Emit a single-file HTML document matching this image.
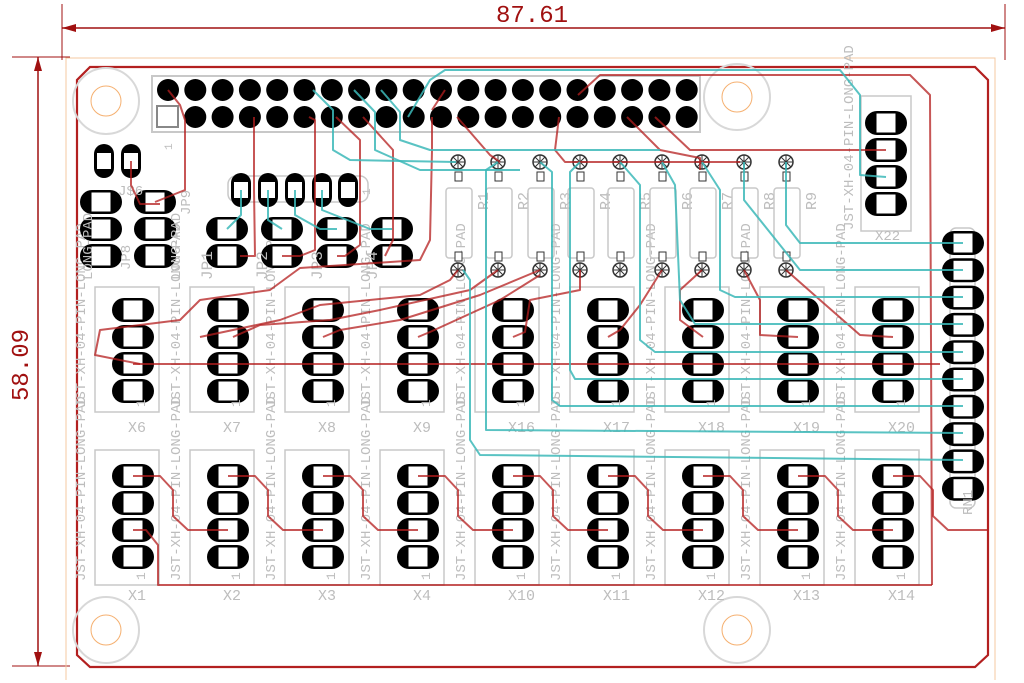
<!DOCTYPE html>
<html><head><meta charset="utf-8"><style>
html,body{margin:0;padding:0;background:#fff;width:1024px;height:683px;overflow:hidden}
svg{display:block}
text{font-family:"Liberation Mono",monospace}
</style></head><body>
<svg id="s" width="1024" height="683" viewBox="0 0 1024 683" xmlns="http://www.w3.org/2000/svg">
<g stroke="#a01010" stroke-width="1.5" fill="#a01010">
<line x1="62" y1="28" x2="1005" y2="28"/>
<line x1="62" y1="4" x2="62" y2="60" stroke-width="1"/>
<line x1="1005" y1="4" x2="1005" y2="60" stroke-width="1"/>
<polygon points="62,28 76,24 76,32" stroke="none"/>
<polygon points="1005,28 991,24 991,32" stroke="none"/>
<line x1="38" y1="57" x2="38" y2="666"/>
<line x1="12" y1="57" x2="70" y2="57" stroke-width="1"/>
<line x1="12" y1="666" x2="70" y2="666" stroke-width="1"/>
<polygon points="38,57 34,71 42,71" stroke="none"/>
<polygon points="38,666 34,652 42,652" stroke="none"/>
</g>
<text x="532" y="22" font-size="24" fill="#a01010" text-anchor="middle" font-family="Liberation Sans">87.61</text>
<text x="0" y="0" font-size="24" fill="#a01010" text-anchor="middle" font-family="Liberation Sans" transform="translate(28,365) rotate(-90)">58.09</text>
<polyline points="66,680 66,58 995,58 995,680" fill="none" stroke="#f4c9a0" stroke-width="1"/>
<g id="g"></g>
</svg>
<script>
var g=document.getElementById('g'),h='';
function A(s){h+=s;}
var RED='rgba(180,30,30,0.75)',CY='rgba(60,185,185,0.85)',GR='#c8c8c8',LB='#bdbdbd';
A('<path d="M90,67 L975,67 L988,80 L988,655 L975,667 L90,667 L77,655 L77,80 Z" fill="none" stroke="#b32020" stroke-width="2.2"/>');
[[106,101],[737,97],[106,630],[737,630]].forEach(function(p){A('<circle cx="'+p[0]+'" cy="'+p[1]+'" r="33" fill="none" stroke="#d8d8d8" stroke-width="2"/><circle cx="'+p[0]+'" cy="'+p[1]+'" r="15" fill="none" stroke="#f5b070" stroke-width="1"/>');});
function hpad(x,y){A('<rect x="'+(x-21)+'" y="'+(y-12)+'" width="42" height="24" rx="12" fill="#000"/><rect x="'+(x-10)+'" y="'+(y-10)+'" width="20" height="20" fill="#fff"/><rect x="'+(x-10)+'" y="'+(y-10)+'" width="20" height="20" fill="none" stroke="#000" stroke-width="1"/>');}
function vpad(x,y){A('<rect x="'+(x-10)+'" y="'+(y-17)+'" width="20" height="34" rx="10" fill="#000"/><rect x="'+(x-7)+'" y="'+(y-8)+'" width="14" height="16" fill="#fff"/>');}
function txt(x,y,s,sz,rot){A('<text x="'+x+'" y="'+y+'" font-size="'+(sz||14)+'" fill="'+LB+'"'+(rot?' transform="rotate(-90 '+x+' '+y+')"':'')+'>'+s+'</text>');}
function T(pts,c){A('<polyline points="'+pts+'" fill="none" stroke="'+c+'" stroke-width="2" stroke-linejoin="round"/>');}
A('<rect x="152" y="76" width="548" height="56" fill="none" stroke="'+GR+'" stroke-width="2"/>');
for(var i=0;i<20;i++){var x=168+i*27.3;A('<circle cx="'+x+'" cy="90" r="11" fill="#000"/>');if(i>0)A('<circle cx="'+x+'" cy="117" r="11" fill="#000"/>');}
A('<rect x="157" y="106" width="21" height="21" fill="#fff" stroke="#888" stroke-width="2"/>');
txt(172,150,'1',11,1);
var cols=[133,228,323,418,513,608,703,798,893];
var topL=['X6','X7','X8','X9','X16','X17','X18','X19','X20'],botL=['X1','X2','X3','X4','X10','X11','X12','X13','X14'];
cols.forEach(function(cx,k){
 [[310,287,412,432,topL[k]],[476,450,585,600,botL[k]]].forEach(function(r){
  A('<rect x="'+(cx-38)+'" y="'+r[1]+'" width="64" height="'+(r[2]-r[1])+'" fill="none" stroke="'+GR+'" stroke-width="1.5"/>');
  for(var j=0;j<4;j++)hpad(cx,r[0]+j*27);
  txt(cx+12,r[2]-5,'1',13,1);
  txt(cx-5,r[3],r[4],15);
  txt(cx-48,r[2]-4,'JST-XH-04-PIN-LONG-PAD',14,1);
 });
});
A('<rect x="861" y="96" width="50" height="135" fill="none" stroke="'+GR+'" stroke-width="1.5"/>');
[123,150,177,204].forEach(function(y){hpad(886,y);});
txt(875,240,'X22',14);txt(853,230,'JST-XH-04-PIN-LONG-PAD',14,1);
A('<rect x="950" y="228" width="25" height="280" rx="6" fill="none" stroke="'+GR+'" stroke-width="1.5"/>');
for(var j=0;j<10;j++)hpad(963,243+j*27.3);
txt(972,515,'RN1',14,1);
var rx=[458,498,540,580,620,662,702,744,786];
rx.forEach(function(x,k){
 A('<rect x="'+(x-12)+'" y="188" width="26" height="70" rx="3" fill="none" stroke="'+GR+'" stroke-width="1.5"/>');
 [162,270].forEach(function(y){A('<circle cx="'+x+'" cy="'+y+'" r="7" fill="#fff" stroke="#333" stroke-width="1.5"/><path d="M'+(x-7)+','+y+'h14M'+x+','+(y-7)+'v14M'+(x-5)+','+(y-5)+'l10,10M'+(x+5)+','+(y-5)+'l-10,10" stroke="#333" stroke-width="1"/>');});
 A('<rect x="'+(x-3)+'" y="172" width="7" height="9" fill="#fff" stroke="#333"/><rect x="'+(x-3)+'" y="252" width="7" height="9" fill="#fff" stroke="#333"/>');
 txt(x+30,210,'R'+(k+1),15,1);
});
A('<rect x="228" y="176" width="140" height="26" rx="8" fill="none" stroke="'+GR+'" stroke-width="1.5"/>');
[241,268,295,322,348].forEach(function(x){vpad(x,190);});
txt(370,195,'1',11,1);
[[101,202],[101,229],[101,256],[155,202],[155,229],[155,256],[227,229],[227,256],[282,229],[282,256],[337,229],[337,256],[392,229],[392,256]].forEach(function(p){hpad(p[0],p[1]);});
vpad(104,161);vpad(131,161);
txt(118,195,'J$6',14);
['JP1','JP2','JP3','JP4'].forEach(function(s,k){txt(212+k*55,280,s,16,1);});
txt(130,270,'JP8',14,1);txt(190,215,'JP9',14,1);
txt(92,280,'LONG-PAD',14,1);txt(180,280,'LONG-PAD',14,1);
T('168,90 180,105 185,120 185,190 155,202',RED);
T('131,161 131,185 140,204 160,204',RED);
T('254,117 254,190 255,256 240,256',RED);
T('309,117 315,120 315,250 300,256 282,256',RED);
T('336,117 360,140 360,245 345,256 337,256',RED);
T('363,117 393,150 393,240 385,256',RED);
T('432,117 432,150 430,240 420,260 300,268 270,290 200,300 180,320 100,330 95,355 140,364',RED);
T('445,90 432,110',RED);
T('457,117 490,155 500,162',RED);
T('559,117 555,150 565,162 740,162',RED);
T('627,117 660,150 700,158 700,170',RED);
T('655,117 690,150 886,150',RED);
T('578,95 600,75 910,75 930,95 932,585',RED);
T('133,364 940,364',RED);
T('200,337 280,320 320,305 420,295 450,280 458,270',RED);
T('233,337 260,325 330,320 380,310 470,290 498,270',RED);
T('323,337 340,330 400,320 480,295 540,270',RED);
T('418,337 430,332 500,300 540,275',RED);
T('513,337 525,332 530,300 580,290 580,270',RED);
T('608,337 620,330 640,305 662,270',RED);
T('703,337 680,320 680,290 702,270',RED);
T('798,337 760,335 760,300 744,270',RED);
T('893,337 860,335 820,300 786,270',RED);
cols.forEach(function(cx){T(cx+','+476+' '+(cx+27)+',476 '+(cx+40)+',490 '+(cx+40)+',516 '+(cx+55)+',530 '+(cx+95)+',530',RED);});
T('133,530 146,530 158,545 158,585 932,585',RED);
T('313,90 333,110 333,150 350,160 456,162',CY);
T('354,90 375,112 375,150 420,170 520,170',CY);
T('381,90 400,112 400,140 430,150 660,150',CY);
T('408,117 430,80 445,70 840,70 860,95 860,175 886,177',CY);
T('463,270 470,280 470,440 480,455 963,460',CY);
T('498,162 486,170 486,430 963,433',CY);
T('540,162 552,172 552,400 560,406 963,406',CY);
T('580,162 570,172 570,370 575,379 963,379',CY);
T('620,162 640,185 640,340 655,352 963,352',CY);
T('662,162 675,185 680,300 695,324 963,324',CY);
T('744,162 744,200 800,270 963,270',CY);
T('786,162 786,225 800,243 963,243',CY);
T('702,162 720,190 720,290 735,297 963,297',CY);
T('241,190 241,215 227,229',CY);T('268,190 268,220 282,229',CY);T('295,190 295,215 320,229 337,229',CY);T('322,190 322,210 370,229 392,229',CY);
g.innerHTML=h;
</script>
</body></html>
